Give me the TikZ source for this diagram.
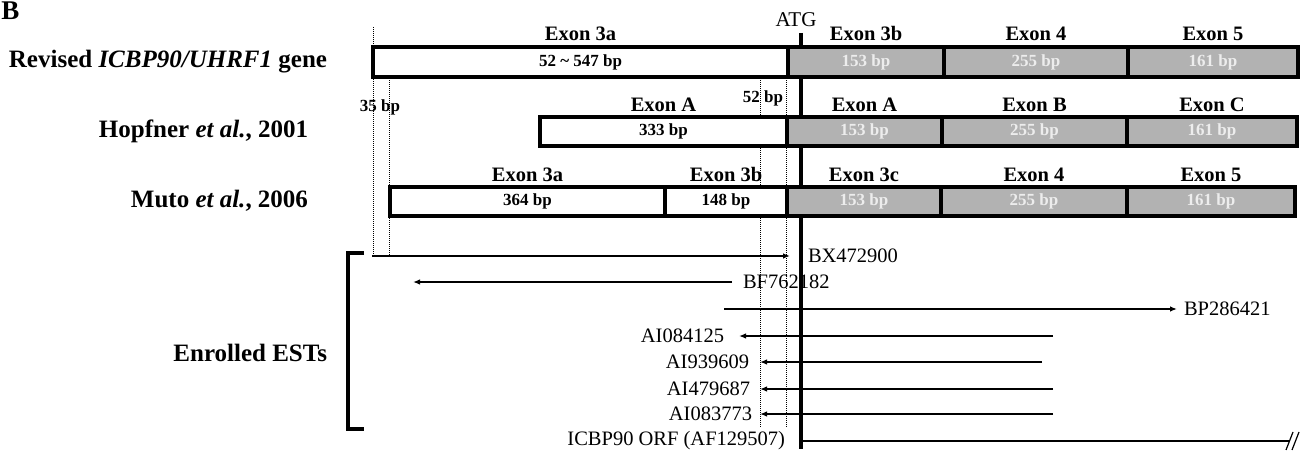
\documentclass[tikz,border=0pt]{standalone}
\usepackage{fontspec}
\setmainfont{Liberation Serif}
\usetikzlibrary{arrows.meta}
\definecolor{gbg}{HTML}{B2B2B2}
\definecolor{gtx}{HTML}{EDEDED}
\begin{document}
\begin{tikzpicture}[x=1pt,y=-1pt,
  every node/.style={inner sep=0pt,outer sep=0pt},
  rowlbl/.style={font=\fontsize{25}{29}\selectfont\bfseries,anchor=east},
  exlbl/.style={font=\fontsize{20.5}{24}\selectfont\bfseries,anchor=base},
  bplbl/.style={font=\fontsize{17}{20}\selectfont\bfseries},
  wbox/.style={draw,line width=3.2pt,fill=white,minimum height=29pt,font=\fontsize{17}{20}\selectfont\bfseries},
  gbox/.style={wbox,fill=gbg,text=gtx},
  est/.style={line width=1.3pt},
  tip/.style={-{Latex[length=7pt,width=5.5pt]}},
  estlbl/.style={font=\fontsize{20.5}{24}\selectfont},
  guide/.style={line width=0.9pt,dash pattern=on 1pt off 1pt}
]
\useasboundingbox (0,0) rectangle (1301,452);

% panel letter
\node[font=\fontsize{27}{27}\selectfont\bfseries,anchor=north west] (panel) at (1.5,2) {B};

% row labels
\node[rowlbl] (lab1) at (327,62) {Revised \textit{ICBP90/UHRF1} gene};
\node[rowlbl] (lab2) at (308,131) {Hopfner \textit{et al.}, 2001};
\node[rowlbl] (lab3) at (308,201) {Muto \textit{et al.}, 2006};
\node[rowlbl] (lab4) at (327,353) {Enrolled ESTs};

% dotted guides
\coordinate (g1t) at (373,27);  \coordinate (g1b) at (373,256);
\coordinate (g2t) at (389,78);  \coordinate (g2b) at (389,256);
\coordinate (g3t) at (760,78);  \coordinate (g3b) at (760,428);
\coordinate (g4t) at (786,78);  \coordinate (g4b) at (786,428);
\draw[guide] (g1t) -- (g1b);
\draw[guide] (g2t) -- (g2b);
\draw[guide] (g3t) -- (g3b);
\draw[guide] (g4t) -- (g4b);

% ATG line
\coordinate (atgt) at (801,33);
\coordinate (atgb) at (801,449);
\draw[line width=4pt] (atgt) -- (atgb);
\node[font=\fontsize{21}{24}\selectfont] (atg) at (796,20) {ATG};

% row 1
\node[wbox,minimum width=415pt,minimum height=30pt] (r1a) at (580.5,62) {52 \textasciitilde\ 547 bp};
\node[gbox,minimum width=156pt,minimum height=30pt] (r1b) at (866,62) {153 bp};
\node[gbox,minimum width=184pt,minimum height=30pt] (r1c) at (1036,62) {255 bp};
\node[gbox,minimum width=170pt,minimum height=30pt] (r1d) at (1213,62) {161 bp};
\node[exlbl] (e1a) at ([yshift=6pt]r1a.north) {Exon 3a};
\node[exlbl] (e1b) at ([yshift=6pt]r1b.north) {Exon 3b};
\node[exlbl] (e1c) at ([yshift=6pt]r1c.north) {Exon 4};
\node[exlbl] (e1d) at ([yshift=6pt]r1d.north) {Exon 5};

% row 2
\node[wbox,minimum width=247pt] (r2a) at (663.5,131.5) {333 bp};
\node[gbox,minimum width=155pt] (r2b) at (864.5,131.5) {153 bp};
\node[gbox,minimum width=185pt] (r2c) at (1034.5,131.5) {255 bp};
\node[gbox,minimum width=170pt] (r2d) at (1212,131.5) {161 bp};
\node[exlbl] (e2a) at ([yshift=6pt]r2a.north) {Exon A};
\node[exlbl] (e2b) at ([yshift=6pt]r2b.north) {Exon A};
\node[exlbl] (e2c) at ([yshift=6pt]r2c.north) {Exon B};
\node[exlbl] (e2d) at ([yshift=6pt]r2d.north) {Exon C};
\node[bplbl] (bp35) at (380,107) {35 bp};
\node[bplbl] (bp52) at (763,98) {52 bp};

% row 3
\node[wbox,minimum width=275pt] (r3a) at (527.5,201.5) {364 bp};
\node[wbox,minimum width=122pt] (r3b) at (726,201.5) {148 bp};
\node[gbox,minimum width=154pt] (r3c) at (864,201.5) {153 bp};
\node[gbox,minimum width=186pt] (r3d) at (1034,201.5) {255 bp};
\node[gbox,minimum width=168pt] (r3e) at (1211,201.5) {161 bp};
\node[exlbl] (e3a) at ([yshift=6pt]r3a.north) {Exon 3a};
\node[exlbl] (e3b) at ([yshift=6pt]r3b.north) {Exon 3b};
\node[exlbl] (e3c) at ([yshift=6pt]r3c.north) {Exon 3c};
\node[exlbl] (e3d) at ([yshift=6pt]r3d.north) {Exon 4};
\node[exlbl] (e3e) at ([yshift=6pt]r3e.north) {Exon 5};

% bracket
\coordinate (brt) at (364,253);
\coordinate (brtl) at (348,253);
\coordinate (brbl) at (348,429);
\coordinate (brb) at (364,429);
\draw[line width=4pt] (brt) -- (brtl) -- (brbl) -- (brb);

% ESTs
\coordinate (bxs) at (372,256);  \coordinate (bxe) at (790,256);
\draw[est,tip] (bxs) -- (bxe);
\node[estlbl,anchor=west] (bx) at (808,256) {BX472900};

\coordinate (bfs) at (732,282);  \coordinate (bfe) at (413,282);
\draw[est,tip] (bfs) -- (bfe);
\node[estlbl,anchor=west] (bf) at (743,282) {BF762182};

\coordinate (bps) at (724,309);  \coordinate (bpe) at (1177,309);
\draw[est,tip] (bps) -- (bpe);
\node[estlbl,anchor=west] (bp) at (1184,309) {BP286421};

\coordinate (a1s) at (1053,336);  \coordinate (a1e) at (739,336);
\draw[est,tip] (a1s) -- (a1e);
\node[estlbl,anchor=east] (a1) at (724,336) {AI084125};

\coordinate (a2s) at (1042,362);  \coordinate (a2e) at (760,362);
\draw[est,tip] (a2s) -- (a2e);
\node[estlbl,anchor=east] (a2) at (749,362) {AI939609};

\coordinate (a3s) at (1053,389);  \coordinate (a3e) at (760,389);
\draw[est,tip] (a3s) -- (a3e);
\node[estlbl,anchor=east] (a3) at (750,389) {AI479687};

\coordinate (a4s) at (1053,414);  \coordinate (a4e) at (760,414);
\draw[est,tip] (a4s) -- (a4e);
\node[estlbl,anchor=east] (a4) at (752,414) {AI083773};

\coordinate (orfs) at (801,441);  \coordinate (orfe) at (1290,441);
\draw[est] (orfs) -- (orfe);
\node[estlbl,anchor=east] (orf) at (785,441) {ICBP90 ORF (AF129507)};
\draw[line width=1.2pt] (1286,450) -- (1293,432);
\draw[line width=1.2pt] (1292,450) -- (1299,432);
\end{tikzpicture}
\end{document}
